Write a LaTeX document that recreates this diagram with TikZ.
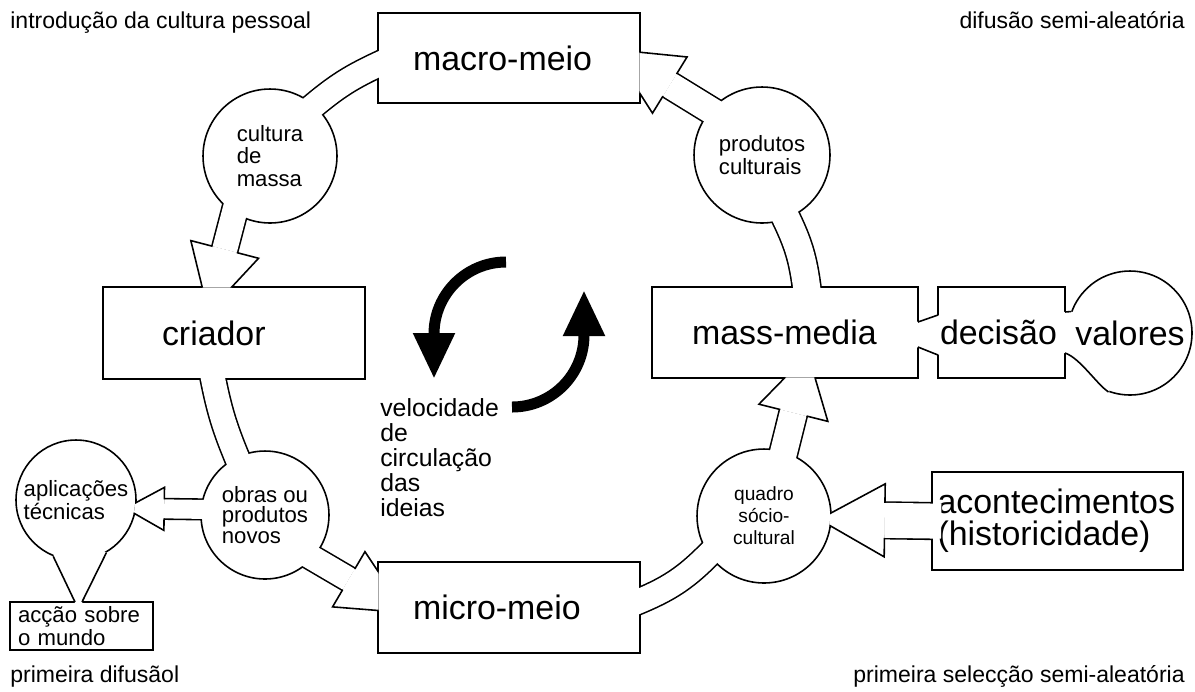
\documentclass[tikz,border=0pt]{standalone}
\usepackage{fontspec}
\setmainfont{Liberation Sans}
\usetikzlibrary{calc}
\usetikzlibrary{arrows.meta,decorations.markings}

\pgfdeclarelayer{back}
\pgfdeclarelayer{front}
\pgfsetlayers{back,main,front}

\tikzset{
  box/.style={draw, fill=white, line width=0.9pt, inner ysep=0pt, align=left,
    font=\fontsize{19.3}{18.1}\selectfont},
  ball/.style={draw, fill=white, circle, line width=0.9pt, inner sep=0pt,
    minimum size=#1, align=left},
  note/.style={inner sep=0pt, font=\fontsize{13.1}{15}\selectfont},
  pipeback/.style={line width=#1*0.02cm+1.8pt, shorten <=-0.2cm, shorten >=-0.2cm},
  pipefront/.style={white, line width=#1*0.02cm, shorten <=-0.2cm, shorten >=-0.2cm},
  barbhead/.style n args={4}{decorate, decoration={markings,
    mark=at position 0.9999 with {
      \fill[white] (-#1,#2) -- (12,{#4-12*(#2-#4)/#1}) -- (12,{-#4+12*(#2-#4)/#1}) -- (-#1,-#2) -- cycle;
      \draw[line width=0.9pt] (-#1,#3) -- (-#1,#2) -- (12,{#4-12*(#2-#4)/#1})
                              (-#1,-#3) -- (-#1,-#2) -- (12,{-#4+12*(#2-#4)/#1});
    }}},
}

\begin{document}
\begin{tikzpicture}[x=0.02cm, y=0.02cm]
    \useasboundingbox (0,0) rectangle (1195,-691);

    \node [box, minimum height=1.8cm, text width=3.84cm, inner xsep=0.7cm] (macro) at (509,-58) {macro-meio};
    \node [box, minimum height=1.84cm, text width=2.88cm, inner xsep=1.18cm] (criador) at (234,-333) {criador};
    \node [box, minimum height=1.82cm, text width=3.72cm, inner xsep=0.8cm] (mm) at (785,-332.5) {mass-media};
    \node [box, minimum height=1.82cm, text width=2.46cm, inner xsep=0.04cm] (dec) at (1001.5,-332.5) {decisão};
    \node [box, minimum height=1.82cm, text width=3.84cm, inner xsep=0.7cm] (micro) at (509,-607.5) {micro-meio};
    \node [box, minimum height=1.96cm, text width=4.8cm, inner xsep=0.11cm] (acont) at (1057.5,-521) {acontecimentos\\(historicidade)};
    \node [box, minimum height=0.96cm, text width=2.54cm, inner xsep=0.16cm, font=\fontsize{12.6}{11.3}\selectfont] (accao) at (81.5,-626) {acção sobre\\o mundo};

    \node [ball=2.68cm, font=\fontsize{12.6}{12.8}\selectfont] (cultura) at (270,-156) {cultura\\de\\massa};
    \node [ball=2.72cm, font=\fontsize{12.6}{11.3}\selectfont] (produtos) at (762,-155) {produtos\\culturais};
    \node [ball=2.56cm, font=\fontsize{12.6}{11.6}\selectfont] (obras) at (265,-515) {obras ou\\produtos\\novos};
    \node [ball=2.4cm, font=\fontsize{12.6}{11.3}\selectfont] (aplic) at (76,-500) {aplicações\\técnicas};
    \node [ball=2.68cm, align=center, font=\fontsize{10.9}{12.5}\selectfont] (quadro) at (764,-516) {quadro\\sócio-\\cultural};
    \node [ball=2.48cm, font=\fontsize{19.3}{18.1}\selectfont] (valores) at (1130,-333) {valores};

    \node [note, anchor=base west] (intro) at (10,-28) {introdução da cultura pessoal};
    \node [note, anchor=base east] (difsemi) at (1185,-28) {difusão semi-aleatória};
    \node [note, anchor=base west] (primdif) at (10,-682) {primeira difusãol};
    \node [note, anchor=base east] (primsel) at (1185,-682) {primeira selecção semi-aleatória};
    \node [anchor=north west, inner sep=0pt, align=left, font=\fontsize{14.1}{14.2}\selectfont] (veloc) at (380,-398) {velocidade\\de\\circulação\\das\\ideias};

    \draw [line width=0.22cm, -{Triangle[width=0.78cm,length=0.92cm]}] (506,-262) arc[start angle=90, end angle=180, radius=72] -- ++(0,-45);
    \draw [line width=0.22cm, -{Triangle[width=0.78cm,length=0.92cm]}] (512,-407) arc[start angle=270, end angle=360, radius=72] -- ++(0,45);

    \begin{pgfonlayer}{back}
      \draw [pipeback=24] (macro.183) to[bend right=8] (cultura.49);
      \draw [pipeback=25, shorten >=0.76cm] (cultura.238) -- (criador.112);
      \draw [pipeback=24] (criador.246) to[bend right=6] (obras.116);
      \draw [pipeback=19, shorten >=0.56cm] (obras.175) -- (aplic.-8);
      \draw [pipeback=24, shorten >=0.66cm] (obras.-42) -- (micro.175);
      \draw [pipeback=24] (micro.3) to[bend right=12] (quadro.215);
      \draw [pipeback=27, shorten >=0.7cm] (quadro.73) -- (mm.290);
      \draw [pipeback=27] (mm.65) to[bend right=10] (produtos.291);
      \draw [pipeback=26, shorten >=0.68cm] (produtos.139) -- (macro.356);
      \draw [pipeback=35, shorten >=1.06cm] (acont.west) -- (quadro.-3);
    \end{pgfonlayer}

    \begin{pgfonlayer}{front}
      \draw [pipefront=24] (macro.183) to[bend right=8] (cultura.49);
      \draw [pipefront=25, shorten >=0.76cm] (cultura.238) -- (criador.112);
      \draw [pipefront=24] (criador.246) to[bend right=6] (obras.116);
      \draw [pipefront=19, shorten >=0.56cm] (obras.175) -- (aplic.-8);
      \draw [pipefront=24, shorten >=0.66cm] (obras.-42) -- (micro.175);
      \draw [pipefront=24] (micro.3) to[bend right=12] (quadro.215);
      \draw [pipefront=27, shorten >=0.7cm] (quadro.73) -- (mm.290);
      \draw [pipefront=27] (mm.65) to[bend right=10] (produtos.291);
      \draw [pipefront=26, shorten >=0.68cm] (produtos.139) -- (macro.356);
      \draw [pipefront=35, shorten >=1.06cm] (acont.west) -- (quadro.-3);

      % barbs, cut off at the border of the box or ball they point into
      \begin{scope}[even odd rule]
        \clip (-20,-711) rectangle (1215,20) ($(criador.north east)+(-1.5,-1.5)$) rectangle ($(criador.south west)+(1.5,1.5)$);
        \path [barbhead={38}{35}{12.5}{14.5}] (cultura.238) -- (criador.112);
      \end{scope}
      \begin{scope}[even odd rule]
        \clip (-20,-711) rectangle (1215,20) ($(micro.north east)+(-1.5,-1.5)$) rectangle ($(micro.south west)+(1.5,1.5)$);
        \path [barbhead={33}{32}{12}{16}] (obras.-42) -- (micro.175);
      \end{scope}
      \begin{scope}[even odd rule]
        \clip (-20,-711) rectangle (1215,20) ($(mm.north east)+(-1.5,-1.5)$) rectangle ($(mm.south west)+(1.5,1.5)$);
        \path [barbhead={35}{35.5}{13.5}{15}] (quadro.73) -- (mm.290);
      \end{scope}
      \begin{scope}[even odd rule]
        \clip (-20,-711) rectangle (1215,20) ($(macro.north east)+(-1.5,-1.5)$) rectangle ($(macro.south west)+(1.5,1.5)$);
        \path [barbhead={34}{33}{13}{16.5}] (produtos.139) -- (macro.356);
      \end{scope}
      \begin{scope}[even odd rule]
        \clip (-20,-711) rectangle (1215,20) (aplic.center) circle[radius=59.2];
        \path [barbhead={28}{21.5}{9.5}{6}] (obras.175) -- (aplic.-8);
      \end{scope}
      \begin{scope}[even odd rule]
        \clip (-20,-711) rectangle (1215,20) (quadro.center) circle[radius=66.2];
        \path [barbhead={53}{36.5}{17.5}{7}] (acont.west) -- (quadro.-3);
      \end{scope}

      \fill [white] (aplic.248) -- ($(accao.north)+(-6.5,-1.8)$) -- ($(accao.north)+(0.5,-1.8)$) -- (aplic.300) -- ($(aplic.center)+(16,-45)$) -- ($(aplic.center)+(-16,-45)$) -- cycle;
      \draw [line width=0.9pt] (aplic.248) -- ($(accao.north)+(-6.5,-0.8)$) ($(accao.north)+(0.5,-0.8)$) -- (aplic.300);

      \fill [white] ($(mm.east)+(-2.5,10.5)$) -- ($(dec.west)+(2.5,17.5)$) -- ($(dec.west)+(2.5,-22.5)$) -- ($(mm.east)+(-2.5,-14.5)$) -- cycle;
      \draw [line width=0.9pt] ($(mm.east)+(-0.8,10.5)$) -- ($(dec.west)+(0.8,17.5)$) ($(mm.east)+(-0.8,-14.5)$) -- ($(dec.west)+(0.8,-22.5)$);

      \fill [white] ($(dec.east)+(-2.5,20.5)$) -- (valores.160) -- ($(valores.center)+(160:60)$) arc[start angle=160, end angle=250, radius=60] -- ($(valores.250)+(0,-6)$) -- ($(dec.east)+(2,-36)$) -- ($(dec.east)+(2,-20.5)$) -- ($(dec.east)+(-2.5,-20.5)$) -- cycle;
      \draw [line width=0.9pt] ($(dec.east)+(-0.8,20.5)$) -- (valores.160);
      \draw [line width=0.9pt] ($(dec.east)+(-0.8,-20.5)$) .. controls +(15,-5) and +(-12,8) .. (valores.250);
    \end{pgfonlayer}
  \end{tikzpicture}
\end{document}
